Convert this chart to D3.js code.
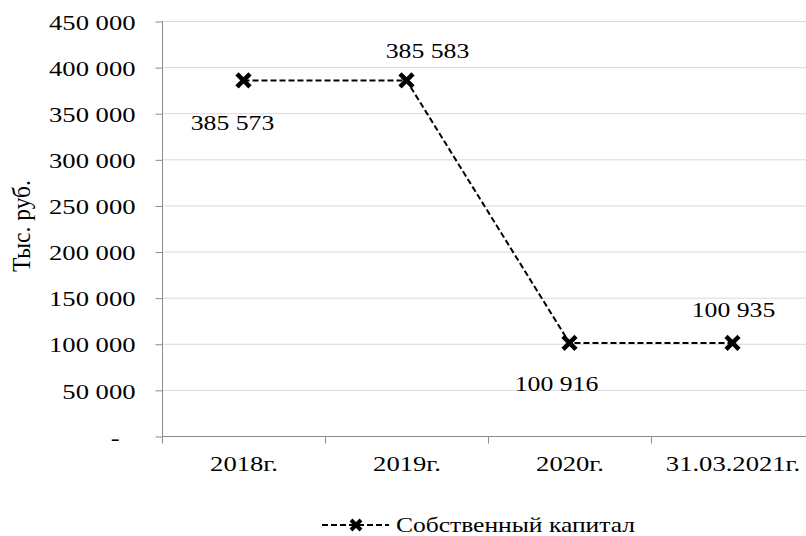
<!DOCTYPE html>
<html>
<head>
<meta charset="utf-8">
<script src="https://cdn.jsdelivr.net/npm/d3@7"></script>
<style>
  html, body { margin: 0; padding: 0; background: #fff; }
  svg { display: block; }
</style>
</head>
<body>
<svg id="chart" width="806" height="536" font-family="Liberation Serif"></svg>
<script>
// Equity by reporting date, thousand roubles
const categories = ["2018г.", "2019г.", "2020г.", "31.03.2021г."];
const equity = [385573, 385583, 100916, 100935];
const yTicks = [0, 50000, 100000, 150000, 200000, 250000, 300000, 350000, 400000, 450000];
const seriesName = "Собственный капитал";
const yTitle = "Тыс. руб.";

const W = 806, H = 536;
const SERIF = "Liberation Serif";
const fontSize = 22;
const sx = 1.21; // wide glyph proportions of the typeface used in the report

const svg = d3.select("#chart");

const x = d3.scaleBand().domain(categories).range([162, 814]);
const y = d3.scaleLinear().domain([0, 450000]).range([436, 21]);

const fmt = v => v === 0 ? "-" : d3.format(",")(v).replace(/,/g, " ");

// horizontal gridlines
svg.append("g")
  .selectAll("line")
  .data(yTicks.filter(d => d > 0))
  .join("line")
  .attr("x1", 162).attr("x2", W)
  .attr("y1", d => y(d) + 0.5).attr("y2", d => y(d) + 0.5)
  .attr("stroke", "#d9d9d9").attr("stroke-width", 1);

// y axis
const yAxis = svg.append("g")
  .attr("transform", "translate(162.5,0.5)")
  .call(d3.axisLeft(y).tickValues(yTicks).tickSize(7).tickPadding(0).tickFormat(fmt));
yAxis.attr("font-family", SERIF);
yAxis.select(".domain").attr("stroke", "#8c8c8c").attr("d", `M0,${y(450000)}V${y(0)}`);
yAxis.selectAll(".tick line").attr("stroke", "#8c8c8c");
yAxis.selectAll(".tick text")
  .attr("font-size", fontSize)
  .attr("font-family", SERIF)
  .attr("fill", "#000")
  .attr("dy", "0.35em")
  .attr("x", d => (d === 0 ? -43 : -27) / sx)
  .attr("transform", `scale(${sx},1)`);

// x axis
const xAxis = svg.append("g")
  .attr("transform", `translate(0.5,${y(0) + 0.5})`)
  .call(d3.axisBottom(x).tickSize(0).tickPadding(0));
xAxis.attr("font-family", SERIF);
xAxis.select(".domain").attr("stroke", "#8c8c8c").attr("d", `M162,0H${W}`);
xAxis.selectAll(".tick line").remove();
xAxis.selectAll(".tick text")
  .attr("font-size", fontSize)
  .attr("font-family", SERIF)
  .attr("fill", "#000")
  .attr("y", 35).attr("dy", 0)
  .attr("transform", `scale(${sx},1)`);
// category boundary ticks
xAxis.append("g")
  .selectAll("line")
  .data(categories)
  .join("line")
  .attr("x1", d => Math.round(x(d))).attr("x2", d => Math.round(x(d)))
  .attr("y1", 0).attr("y2", 7)
  .attr("stroke", "#8c8c8c");

// y title
svg.append("text")
  .attr("transform", `translate(30,226) scale(1.05,1) rotate(-90)`)
  .attr("text-anchor", "middle")
  .attr("font-family", SERIF)
  .attr("font-size", 23.5)
  .attr("fill", "#000")
  .text(yTitle);

// series line
const cx = d => x(d) + x.bandwidth() / 2;
const line = d3.line().x((d, i) => cx(categories[i])).y(d => y(d));
svg.append("path")
  .datum(equity)
  .attr("d", line)
  .attr("fill", "none")
  .attr("stroke", "#000")
  .attr("stroke-width", 2)
  .attr("stroke-dasharray", "6,3");

// cross markers
const cross = (s) => `M${-s},${-s}L${s},${s}M${-s},${s}L${s},${-s}`;
svg.append("g")
  .selectAll("path")
  .data(equity)
  .join("path")
  .attr("transform", (d, i) => `translate(${cx(categories[i])},${y(d)})`)
  .attr("d", cross(6.5))
  .attr("stroke", "#000")
  .attr("stroke-width", 4.5)
  .attr("fill", "none");

// value labels (narrow digit-group gap)
const labelOffsets = [[-11, 50], [21, -22], [-13, 48], [1, -26]];
svg.append("g")
  .selectAll("text")
  .data(equity)
  .join("text")
  .attr("transform", (d, i) => `translate(${cx(categories[i]) + labelOffsets[i][0]},${y(d) + labelOffsets[i][1]}) scale(1.17,1)`)
  .attr("text-anchor", "middle")
  .attr("font-family", SERIF)
  .attr("font-size", fontSize)
  .attr("fill", "#000")
  .text(d => fmt(d));

// legend
const lg = svg.append("g").attr("transform", "translate(0,525)");
lg.append("line")
  .attr("x1", 322).attr("x2", 389).attr("y1", 0).attr("y2", 0)
  .attr("stroke", "#000").attr("stroke-width", 2).attr("stroke-dasharray", "6,3");
lg.append("path")
  .attr("transform", "translate(356,0)")
  .attr("d", cross(5))
  .attr("stroke", "#000").attr("stroke-width", 4).attr("fill", "none");
lg.append("text")
  .attr("transform", `translate(396,7) scale(1.16,1)`)
  .attr("font-family", SERIF)
  .attr("font-size", fontSize)
  .attr("fill", "#000")
  .text(seriesName);
</script>
</body>
</html>
